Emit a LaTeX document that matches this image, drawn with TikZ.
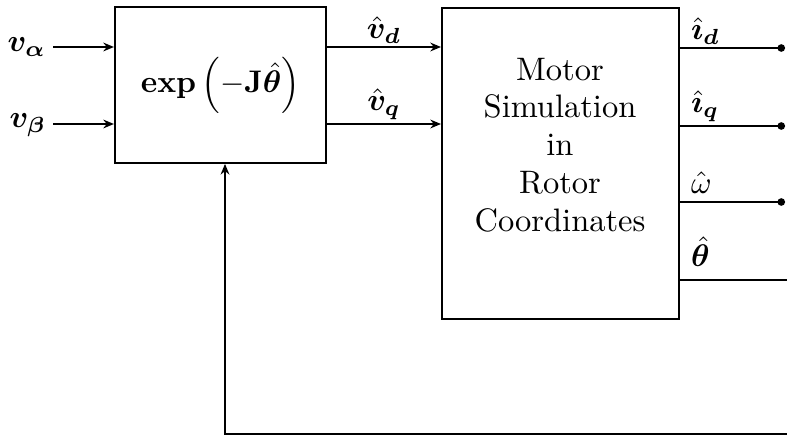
\documentclass[tikz,border=0pt]{standalone}
\usepackage{amsmath,bm}
\usetikzlibrary{arrows.meta}
\begin{document}
\begin{tikzpicture}[x=0.32pt,y=-0.32pt,line width=0.65pt,
  every node/.style={font=\fontsize{10.4}{12.1}\selectfont},
  blockbox/.style={draw,line width=0.7pt,inner sep=0pt},
  arr/.style={-{Stealth[length=3.4pt,width=2.8pt]}},
  dotend/.style={-{Circle[length=2.4pt]}},
  lab/.style={inner sep=1pt}]
\useasboundingbox (0,0) rectangle (787,437);
% blocks
\node[blockbox,minimum width=67.5pt,minimum height=49.8pt] (L) at (220.5,85) {$\mathbf{exp}\left(-\mathbf{J}\hat{\bm\theta}\right)$};
\node[blockbox,minimum width=75.8pt,minimum height=99.5pt] (R) at (560.5,163.5) {};
\node[align=center] (Rtext) at (560,145) {Motor\\Simulation\\in\\Rotor\\Coordinates};
% inputs
\coordinate (ain) at (53,47);
\coordinate (bin) at (53,124);
\draw[arr] (ain) -- (ain -| L.west);
\draw[arr] (bin) -- (bin -| L.west);
\node[lab,anchor=east] (va) at (50,47) {$\bm{v}_{\bm\alpha}$};
\node[lab,anchor=east] (vb) at (50,125) {$\bm{v}_{\bm\beta}$};
% between blocks
\draw[arr] (ain -| L.east) -- (ain -| R.west);
\draw[arr] (bin -| L.east) -- (bin -| R.west);
\node[lab] (vd) at (384,30) {$\hat{\bm v}_{\bm d}$};
\node[lab] (vq) at (384,104) {$\hat{\bm v}_{\bm q}$};
% outputs
\coordinate (oid) at (785,48);
\coordinate (oiq) at (785,126);
\coordinate (ow) at (785,202);
\coordinate (oth) at (787,280);
\draw[dotend] (oid -| R.east) -- (oid);
\draw[dotend] (oiq -| R.east) -- (oiq);
\draw[dotend] (ow -| R.east) -- (ow);
\draw (oth -| R.east) -- (oth);
\node[lab,anchor=west] (id) at (687,31) {$\hat{\bm\imath}_{\bm d}$};
\node[lab,anchor=west] (iq) at (687,106) {$\hat{\bm\imath}_{\bm q}$};
\node[lab,anchor=west] (om) at (687,183) {$\hat{\omega}$};
\node[lab,anchor=west] (th) at (687,252) {$\hat{\bm\theta}$};
% feedback
\coordinate (fb) at (787,434);
\coordinate (fc) at (225,434);
\draw[arr] (fb) -- (fc) -- (fc |- L.south);
\end{tikzpicture}
\end{document}
